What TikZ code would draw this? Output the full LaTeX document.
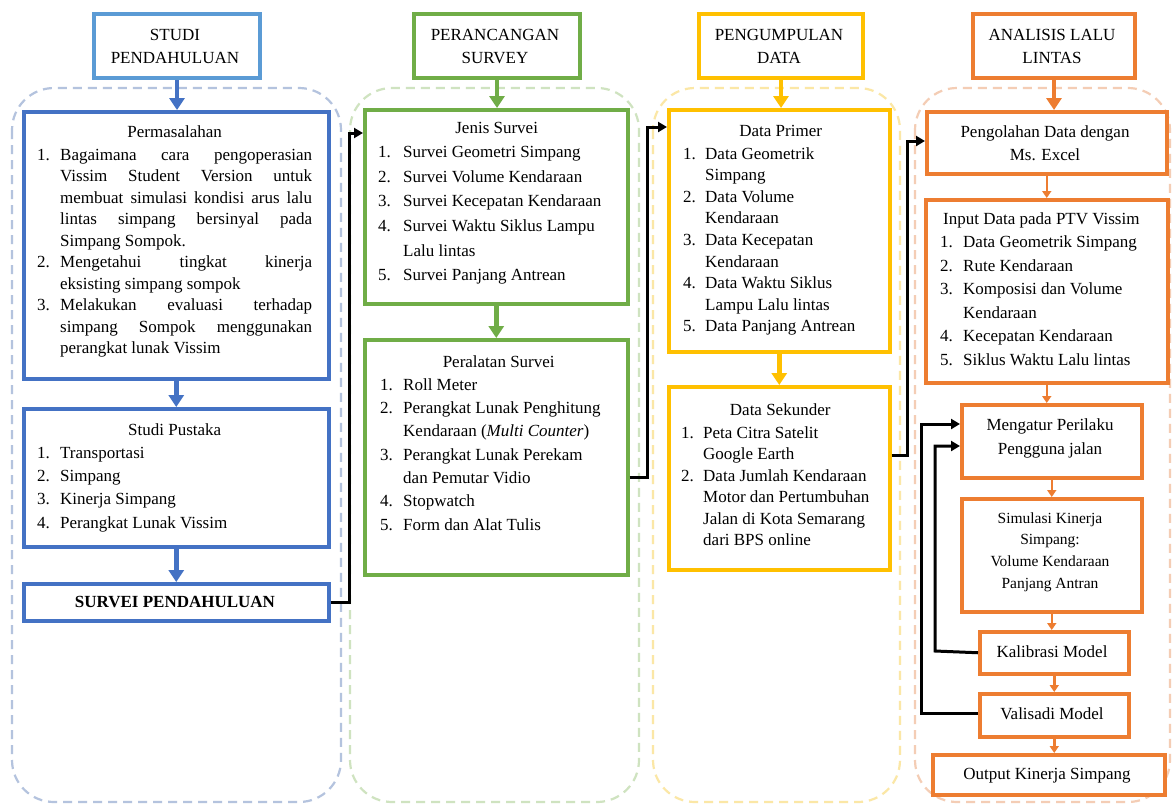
\documentclass[tikz,border=0pt]{standalone}
\usepackage{fontspec}
\setmainfont{Liberation Serif}
\usetikzlibrary{arrows.meta}
\definecolor{cblue}{HTML}{4472C4}
\definecolor{cbluehd}{HTML}{5B9BD5}
\definecolor{cgreen}{HTML}{70AD47}
\definecolor{cyellow}{HTML}{FFC000}
\definecolor{corange}{HTML}{ED7D31}
\definecolor{dblue}{HTML}{B4C3DE}
\definecolor{dgreen}{HTML}{CFE3C0}
\definecolor{dyellow}{HTML}{FBE7A6}
\definecolor{dorange}{HTML}{F4CDB5}
\newcommand\litem[3][23pt]{\hangindent=#1\hangafter=1\noindent\makebox[#1][l]{#2}#3\par}
\newcommand\nl{\hfil\break}
\begin{document}
\begin{tikzpicture}[x=1pt,y=-1pt,
  every node/.style={inner sep=0pt, font=\fontsize{17}{21.5}\selectfont},
  box/.style={draw=#1, line width=3.5pt, fill=white, anchor=north west},
  hbox/.style={draw=#1, line width=4pt, fill=white, anchor=north west},
  cont/.style={draw=#1, line width=2.2pt, dash pattern=on 9pt off 6pt, rounded corners=42pt},
  bigarr/.style={draw=#1, line width=4.5pt, -{Triangle[width=15pt,length=12pt]}},
  smallarr/.style={draw=#1, line width=2.5pt, -{Triangle[width=9pt,length=7pt]}},
  link/.style={draw=black, line width=3pt, -{Triangle[width=10pt,length=9pt]}},
  txt/.style={anchor=base west},
  ctr/.style={anchor=base}
]
\fill[white] (0,0) rectangle (1176,807);
\useasboundingbox (0,0) rectangle (1176,807);

% containers
\draw[cont=dblue] (12,88) rectangle (341,802);
\draw[cont=dgreen] (350,88) rectangle (639,802);
\draw[cont=dyellow] (653,88) rectangle (900,802);
\draw[cont=dorange] (915,88) rectangle (1170,802);

% ---------- column 1 ----------
\node[hbox=cbluehd, minimum width=166, minimum height=64] (h1) at (92,12) {};
\node[ctr] at (175,40) {\parbox[t]{160pt}{\fontsize{17}{23}\selectfont\centering STUDI\\PENDAHULUAN}};

\node[box=cblue, minimum width=305, minimum height=267] (perm) at (22,110) {};
\node[txt] at (37,137) {\parbox[t]{275pt}{{\centering Permasalahan\par}\vspace{1.5pt}%
\litem{1.}{Bagaimana cara pengoperasian\linebreak Vissim Student Version untuk\linebreak membuat simulasi kondisi arus lalu\linebreak lintas simpang bersinyal pada\linebreak Simpang Sompok.}%
\litem{2.}{Mengetahui tingkat kinerja\linebreak eksisting simpang sompok}%
\litem{3.}{Melakukan evaluasi terhadap\linebreak simpang Sompok menggunakan\linebreak perangkat lunak Vissim}}};

\node[box=cblue, minimum width=305, minimum height=138] (pust) at (22,407) {};
\node[txt, font=\fontsize{17}{23.3}\selectfont] at (37,435) {\parbox[t]{275pt}{\raggedright{\centering Studi Pustaka\par}%
\litem{1.}{Transportasi}%
\litem{2.}{Simpang}%
\litem{3.}{Kinerja Simpang}%
\litem{4.}{Perangkat Lunak Vissim}}};

\node[box=cblue, minimum width=305, minimum height=37] (surv) at (22,582) {};
\node[ctr] at (175,607) {\bfseries SURVEI PENDAHULUAN};

% ---------- column 2 ----------
\node[hbox=cgreen, minimum width=166, minimum height=64] (h2) at (412,12) {};
\node[ctr] at (495,40) {\parbox[t]{160pt}{\fontsize{17}{23}\selectfont\centering PERANCANGAN\\SURVEY}};

\node[box=cgreen, minimum width=263, minimum height=194] (jenis) at (363,108) {};
\node[txt, font=\fontsize{17}{24.6}\selectfont] at (378,133) {\parbox[t]{237pt}{\raggedright{\centering Jenis Survei\par}%
\litem[25pt]{1.}{Survei Geometri Simpang}%
\litem[25pt]{2.}{Survei Volume Kendaraan}%
\litem[25pt]{3.}{Survei Kecepatan Kendaraan}%
\litem[25pt]{4.}{Survei Waktu Siklus Lampu\nl Lalu lintas}%
\litem[25pt]{5.}{Survei Panjang Antrean}}};

\node[box=cgreen, minimum width=263, minimum height=235] (peral) at (363,338) {};
\node[txt, font=\fontsize{17}{23.3}\selectfont] at (380,367) {\parbox[t]{237pt}{\raggedright{\centering Peralatan Survei\par}%
\litem[23pt]{1.}{Roll Meter}%
\litem[23pt]{2.}{Perangkat Lunak Penghitung\nl Kendaraan (\textit{Multi Counter})}%
\litem[23pt]{3.}{Perangkat Lunak Perekam\nl dan Pemutar Vidio}%
\litem[23pt]{4.}{Stopwatch}%
\litem[23pt]{5.}{Form dan Alat Tulis}}};

% ---------- column 3 ----------
\node[hbox=cyellow, minimum width=164, minimum height=64] (h3) at (697,12) {};
\node[ctr] at (779,40) {\parbox[t]{160pt}{\fontsize{17}{23}\selectfont\centering PENGUMPULAN\\DATA}};

\node[box=cyellow, minimum width=221, minimum height=242] (dprim) at (667,108) {};
\node[txt, font=\fontsize{17}{21.6}\selectfont] at (683,136) {\parbox[t]{195pt}{\raggedright{\centering Data Primer\par}\vspace{1.5pt}%
\litem[22pt]{1.}{Data Geometrik\nl Simpang}%
\litem[22pt]{2.}{Data Volume\nl Kendaraan}%
\litem[22pt]{3.}{Data Kecepatan\nl Kendaraan}%
\litem[22pt]{4.}{Data Waktu Siklus\nl Lampu Lalu lintas}%
\litem[22pt]{5.}{Data Panjang Antrean}}};

\node[box=cyellow, minimum width=221, minimum height=183] (dsek) at (667,385) {};
\node[txt, font=\fontsize{17}{21.5}\selectfont] at (681,415) {\parbox[t]{198pt}{\raggedright{\centering Data Sekunder\par}\vspace{1.5pt}%
\litem[22pt]{1.}{Peta Citra Satelit\nl Google Earth}%
\litem[22pt]{2.}{Data Jumlah Kendaraan\nl Motor dan Pertumbuhan\nl Jalan di Kota Semarang\nl dari BPS online}}};

% ---------- column 4 ----------
\node[hbox=corange, minimum width=162, minimum height=64] (h4) at (971,12) {};
\node[ctr] at (1052,40) {\parbox[t]{160pt}{\fontsize{17}{23}\selectfont\centering ANALISIS LALU\\LINTAS}};

\node[box=corange, minimum width=240, minimum height=62] (peng) at (925,110) {};
\node[ctr] at (1045,137) {\parbox[t]{230pt}{\fontsize{17}{23}\selectfont\centering Pengolahan Data dengan\\Ms. Excel}};

\node[box=corange, minimum width=242, minimum height=183] (inp) at (924,198) {};
\node[txt, font=\fontsize{17}{23.5}\selectfont] at (940,224) {\parbox[t]{222pt}{\raggedright\hspace*{3pt}Input Data pada PTV Vissim\par%
\litem[23pt]{1.}{Data Geometrik Simpang}%
\litem[23pt]{2.}{Rute Kendaraan}%
\litem[23pt]{3.}{Komposisi dan Volume\nl Kendaraan}%
\litem[23pt]{4.}{Kecepatan Kendaraan}%
\litem[23pt]{5.}{Siklus Waktu Lalu lintas}}};

\node[box=corange, minimum width=180, minimum height=73] (meng) at (960,403) {};
\node[ctr] at (1050,430) {\parbox[t]{170pt}{\fontsize{17}{24}\selectfont\centering Mengatur Perilaku\\Pengguna jalan}};

\node[box=corange, minimum width=180, minimum height=113] (sim) at (960,497) {};
\node[ctr] at (1050,523) {\parbox[t]{170pt}{\fontsize{15.5}{21.8}\selectfont\centering Simulasi Kinerja\\Simpang:\\Volume Kendaraan\\Panjang Antran}};

\node[box=corange, minimum width=149, minimum height=42] (kal) at (978,630) {};
\node[ctr] at (1052,657) {Kalibrasi Model};

\node[box=corange, minimum width=149, minimum height=43] (val) at (978,692) {};
\node[ctr] at (1052,719) {Valisadi Model};

\node[box=corange, minimum width=232, minimum height=40] (outp) at (931,753) {};
\node[ctr] at (1047,779) {Output Kinerja Simpang};

% ---------- arrows ----------
\draw[bigarr=cblue] (h1.south) -- (h1.south |- perm.north);
\draw[bigarr=cblue] (perm.south) -- (pust.north);
\draw[bigarr=cblue] (pust.south) -- (surv.north);
\draw[bigarr=cgreen] (h2.south) -- (h2.south |- jenis.north);
\draw[bigarr=cgreen] (jenis.south) -- (peral.north);
\draw[bigarr=cyellow] (h3.south) -- (h3.south |- dprim.north);
\draw[bigarr=cyellow] (dprim.south) -- (dsek.north);
\draw[bigarr=corange] (h4.south) -- (h4.south |- peng.north);
\draw[smallarr=corange] (peng.south) -- (peng.south |- inp.north);
\draw[smallarr=corange] (inp.south) -- (inp.south |- meng.north);
\draw[smallarr=corange] (meng.south) -- (sim.north);
\draw[smallarr=corange] (sim.south) -- (sim.south |- kal.north);
\draw[smallarr=corange] (kal.south) -- (val.north);
\draw[smallarr=corange] (val.south) -- (val.south |- outp.north);

% black connectors
\draw[link] (surv.east) -- ++(19,0) |- (jenis.west |- 0,133);
\draw[link] (peral.east |- 0,477) -- (647,477) |- (dprim.west |- 0,127);
\draw[link] (dsek.east |- 0,455) -- (907,455) |- (peng.west |- 0,141);
\draw[link] (kal.west) -- (935,651) |- (meng.west |- 0,446);
\draw[link] (val.west |- 0,713) -- (921,713) |- (meng.west |- 0,424);
\end{tikzpicture}
\end{document}
